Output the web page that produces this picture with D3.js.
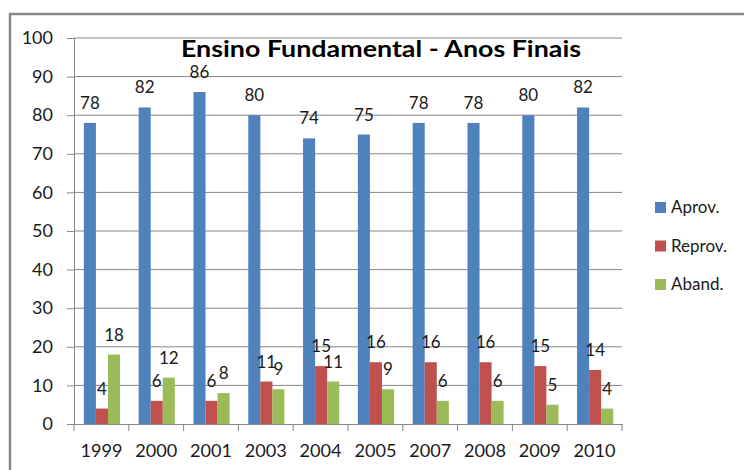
<!DOCTYPE html>
<html>
<head>
<meta charset="utf-8">
<script src="https://cdn.jsdelivr.net/npm/d3@7"></script>
<style>
  body { margin: 0; background: #fff; }
  text { font-family: Lato, "Open Sans", sans-serif; fill: #1a1a1a; }
</style>
</head>
<body>
<div id="chart"></div>
<script>
// data
const years = ["1999", "2000", "2001", "2003", "2004", "2005", "2007", "2008", "2009", "2010"];
const seriesNames = ["Aprov.", "Reprov.", "Aband."];
const aprov   = [78, 82, 86, 80, 74, 75, 78, 78, 80, 82];
const reprov  = [4, 6, 6, 11, 15, 16, 16, 16, 15, 14];
const aband   = [18, 12, 8, 9, 11, 9, 6, 6, 5, 4];
const yTicks  = [0, 10, 20, 30, 40, 50, 60, 70, 80, 90, 100];
const colors  = ["#4F81BD", "#C0504D", "#9BBB59"];

const W = 744, H = 470;
const margin = {top: 38, right: 122, bottom: 46, left: 74};
const width = W - margin.left - margin.right,
      height = H - margin.top - margin.bottom;

const svg = d3.select("#chart").append("svg")
    .attr("width", W)
    .attr("height", H);

// outer frame (only top and left are visible)
svg.append("rect")
    .attr("x", 10).attr("y", 14)
    .attr("width", 760).attr("height", 500)
    .attr("fill", "none")
    .attr("stroke", "#868686")
    .attr("stroke-width", 2.5);

const g = svg.append("g")
    .attr("transform", `translate(${margin.left},${margin.top})`);

const x0 = d3.scaleBand().domain(years).range([0, width]);
const x1 = d3.scaleBand().domain(seriesNames)
    .range([x0.bandwidth() * 0.18, x0.bandwidth() * 0.84]);
const y = d3.scaleLinear().domain([0, 100]).range([height, 0]);

// gridlines + y axis
const yAxis = g.append("g")
    .call(d3.axisLeft(y).tickValues(yTicks).tickSize(7).tickPadding(14));
yAxis.select(".domain").attr("stroke", "#868686");
yAxis.selectAll(".tick line").attr("stroke", "#868686");
yAxis.selectAll(".tick text").attr("font-size", 18).attr("fill", "#1a1a1a")
    .style("font-family", "Lato, sans-serif");

g.append("g")
  .selectAll("line")
  .data(yTicks.filter(d => d > 0))
  .join("line")
    .attr("x1", 0).attr("x2", width)
    .attr("y1", d => y(d)).attr("y2", d => y(d))
    .attr("stroke", "#868686")
    .attr("stroke-width", 1);

// x axis
const xAxis = g.append("g")
    .attr("transform", `translate(0,${height})`)
    .call(d3.axisBottom(x0).tickSize(0).tickPadding(20));
xAxis.select(".domain").attr("stroke", "#868686");
xAxis.selectAll(".tick text").attr("font-size", 18).attr("fill", "#1a1a1a")
    .style("font-family", "Lato, sans-serif")
    .attr("textLength", 42).attr("lengthAdjust", "spacingAndGlyphs");
// tick marks between categories
g.append("g")
  .selectAll("line")
  .data(years.concat(["end"]))
  .join("line")
    .attr("x1", (d, i) => i * x0.step())
    .attr("x2", (d, i) => i * x0.step())
    .attr("y1", height).attr("y2", height + 7)
    .attr("stroke", "#868686");

// bars
const rows = years.map((yr, i) => ({year: yr, values: [aprov[i], reprov[i], aband[i]]}));

const groups = g.selectAll(".grp")
  .data(rows)
  .join("g")
    .attr("class", "grp")
    .attr("transform", d => `translate(${x0(d.year)},0)`);

groups.selectAll("rect")
  .data(d => d.values.map((v, k) => ({key: seriesNames[k], value: v, k: k})))
  .join("rect")
    .attr("x", d => x1(d.key))
    .attr("width", x1.bandwidth())
    .attr("y", d => y(d.value))
    .attr("height", d => height - y(d.value))
    .attr("fill", d => colors[d.k]);

groups.selectAll("text.lbl")
  .data(d => d.values.map((v, k) => ({key: seriesNames[k], value: v})))
  .join("text")
    .attr("class", "lbl")
    .attr("x", d => x1(d.key) + x1.bandwidth() / 2)
    .attr("y", d => y(d.value) - 14)
    .attr("text-anchor", "middle")
    .attr("font-size", 17)
    .text(d => d.value);

// title
svg.append("text")
    .attr("x", 381)
    .attr("y", 57)
    .attr("text-anchor", "middle")
    .attr("font-size", 23)
    .attr("font-weight", "bold")
    .attr("textLength", 400)
    .attr("lengthAdjust", "spacingAndGlyphs")
    .style("fill", "#000")
    .text("Ensino Fundamental - Anos Finais");

// legend
const legend = svg.append("g")
    .attr("transform", "translate(655,202)");
const li = legend.selectAll("g")
  .data(seriesNames)
  .join("g")
    .attr("transform", (d, i) => `translate(0,${i * 38.5})`);
li.append("rect")
    .attr("width", 11).attr("height", 11)
    .attr("fill", (d, i) => colors[i]);
li.append("text")
    .attr("x", 16).attr("y", 11)
    .attr("font-size", 17)
    .text(d => d);
</script>
</body>
</html>
